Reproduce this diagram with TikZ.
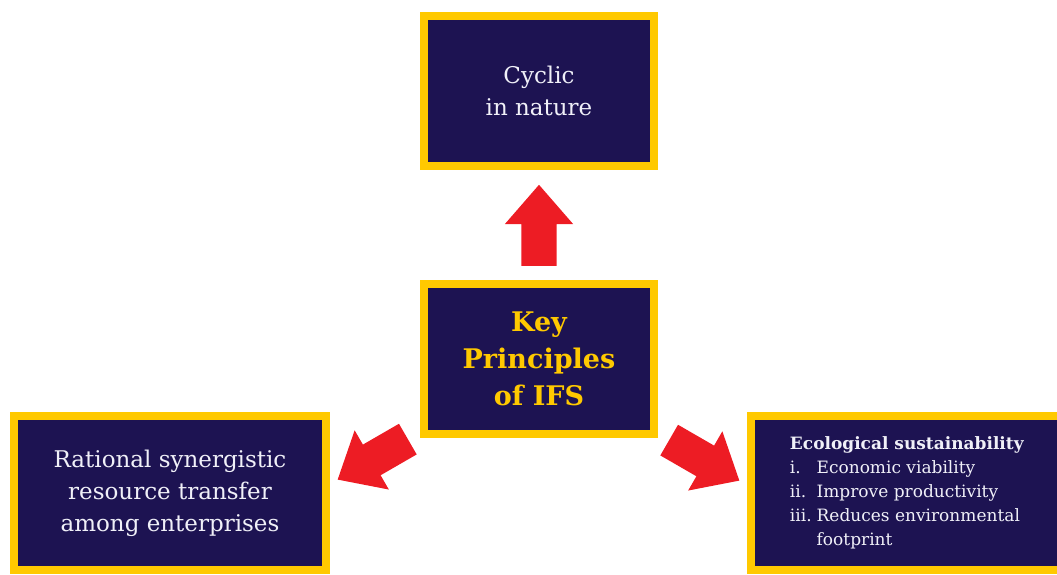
\documentclass[tikz,border=0pt]{standalone}
\usepackage{fontspec}
\setmainfont{DejaVu Serif}
\usepackage{xcolor}
\usepackage{tikz}
\usetikzlibrary{positioning,calc,shapes.arrows}
\definecolor{ifsnavy}{RGB}{29,19,82}
\definecolor{ifsyellow}{RGB}{255,201,0}
\definecolor{ifsred}{RGB}{237,28,36}
\definecolor{ifstext}{RGB}{240,240,248}

\begin{document}
\begin{tikzpicture}[
  x=1pt, y=1pt,
  box/.style={draw=ifsyellow, line width=8pt, fill=ifsnavy, outer sep=0pt, align=center, text=ifstext,
    minimum width=230pt, minimum height=150pt, font=\fontsize{23}{32}\selectfont},
  wide/.style={box, minimum width=312pt, minimum height=154pt},
  bigarrow/.style={single arrow, fill=ifsred, draw=none, inner xsep=0pt, inner ysep=17.5pt, minimum height=81pt,
    single arrow head extend=16.5pt, single arrow tip angle=82, anchor=tail}
]
\useasboundingbox (0,0) rectangle (1057,574);
\node[box, text=ifsyellow, font=\fontsize{27}{37}\selectfont\bfseries] (key) at (539,215) {Key\\Principles\\of IFS};
\node[box, above=118pt of key] (cyclic) {Cyclic\\in nature};
\node[wide] (transfer) at (170,81) {Rational synergistic\\resource transfer\\among enterprises};
\node[wide, font=\fontsize{17}{24}\selectfont] (ecology) at (907,81) {%
  \begin{tabular}{@{}l@{\hspace{5pt}}l@{}}
  \multicolumn{2}{@{}l@{}}{\textbf{Ecological sustainability}}\\
  i. & Economic viability\\
  ii. & Improve productivity\\
  iii. & Reduces environmental\\
   & footprint
  \end{tabular}};

\node[bigarrow, rotate=90] (toCyclic) at ($(key.north)+(0,18)$) {};
\node[bigarrow, rotate=210] (toTransfer) at (408,135) {};
\node[bigarrow, rotate=330] (toEcology) at (669,134) {};
\end{tikzpicture}
\end{document}
